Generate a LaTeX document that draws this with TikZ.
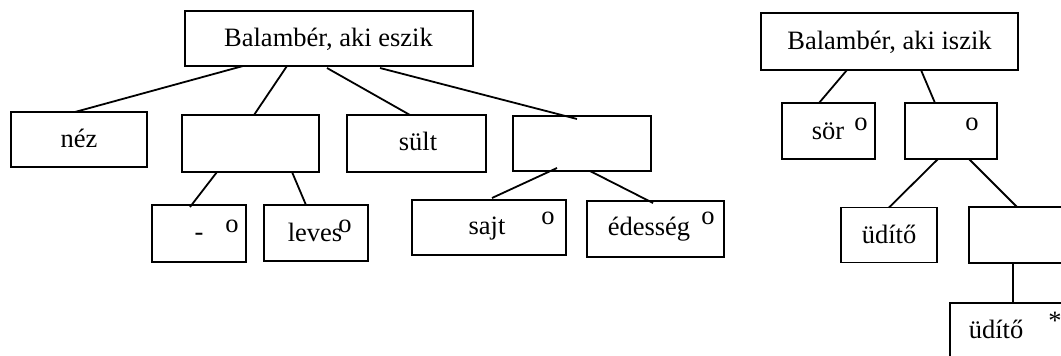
\documentclass[tikz,border=0pt]{standalone}
\usepackage{fontspec}
\setmainfont{Liberation Serif}
\tikzset{
  boxnode/.style={draw, line width=1.8pt, inner sep=0pt, outer sep=0pt, anchor=center},
  txt/.style={inner sep=0pt, outer sep=0pt, anchor=base, font=\fontsize{26.5}{30}\selectfont},
  omark/.style={inner sep=0pt, outer sep=0pt, anchor=base, font=\fontsize{26.5}{30}\selectfont},
  conn/.style={line width=1.8pt}
}
\begin{document}
\begin{tikzpicture}[x=1pt, y=-1pt]
\useasboundingbox (0,0) rectangle (1061,356);
\clip (0,0) rectangle (1061,356);
% left tree boxes
\node[boxnode, minimum width=288, minimum height=55] (top) at (329,38.5) {};
\node[boxnode, minimum width=136, minimum height=55] (nez) at (79,139.5) {};
\node[boxnode, minimum width=137, minimum height=57] (b2) at (250.5,143.5) {};
\node[boxnode, minimum width=139, minimum height=57] (sult) at (416.5,143.5) {};
\node[boxnode, minimum width=138, minimum height=55] (b4) at (582,143.5) {};
\node[boxnode, minimum width=94, minimum height=57] (dashb) at (199,233.5) {};
\node[boxnode, minimum width=104, minimum height=56] (leves) at (316,233) {};
\node[boxnode, minimum width=154, minimum height=55] (sajt) at (489,227.5) {};
\node[boxnode, minimum width=137, minimum height=56] (edes) at (655.5,229) {};
% right tree boxes
\node[boxnode, minimum width=257, minimum height=57] (rtop) at (889.5,41.5) {};
\node[boxnode, minimum width=93, minimum height=56] (sor) at (828.5,131) {};
\node[boxnode, minimum width=92, minimum height=56] (obox) at (951,131) {};
\node[boxnode, minimum width=96, minimum height=55] (udito) at (889,235) {};
\node[boxnode, minimum width=100, minimum height=56] (empty) at (1019,235) {};
\node[boxnode, minimum width=130, minimum height=57] (bottom) at (1015,331.5) {};
% texts
\node[txt] (ttop) at (328.5,46) {Balambér, aki eszik};
\node[txt] (tnez) at (79,147) {néz};
\node[txt] (tsult) at (418,150) {sült};
\node[txt] (tdash) at (199,240) {-};
\node[txt] (tleves) at (315,241) {leves};
\node[txt] (tsajt) at (487,234) {sajt};
\node[txt] (tedes) at (649,235) {édesség};
\node[txt] (trtop) at (889.5,49) {Balambér, aki iszik};
\node[txt] (tsor) at (828,139) {sör};
\node[txt] (tudito) at (889,243) {üdítő};
\node[txt] (tbottom) at (996,338) {üdítő};
% marks
\node[omark] (o1) at (232,232) {o};
\node[omark] (o2) at (345,232) {o};
\node[omark] (o3) at (548,224) {o};
\node[omark] (o4) at (708,224) {o};
\node[omark] (o5) at (861,130) {o};
\node[omark] (o6) at (972,130) {o};
\node[inner sep=0pt, anchor=center, font=\fontsize{26.5}{30}\selectfont] (star) at (1055,321) {*};
% connectors left
\draw[conn] ([xshift=-86pt]top.south) -- ([xshift=-4pt]nez.north);
\draw[conn] ([xshift=-42pt]top.south) -- ([xshift=3.5pt]b2.north);
\draw[conn] ([xshift=-2pt,yshift=-2pt]top.south) -- ([xshift=-6.5pt]sult.north);
\draw[conn] ([xshift=51pt,yshift=-2pt]top.south) -- ([xshift=-5pt,yshift=-3pt]b4.north);
\draw[conn] ([xshift=-33.5pt]b2.south) -- ([xshift=-9pt,yshift=-2pt]dashb.north);
\draw[conn] ([xshift=41.5pt]b2.south) -- ([xshift=-10pt]leves.north);
\draw[conn] ([xshift=-25pt,yshift=3pt]b4.south) -- ([xshift=3pt,yshift=2pt]sajt.north);
\draw[conn] ([xshift=8pt]b4.south) -- ([xshift=-2.5pt,yshift=-2pt]edes.north);
% connectors right
\draw[conn] ([xshift=-42.5pt]rtop.south) -- ([xshift=-9.5pt]sor.north);
\draw[conn] ([xshift=31.5pt]rtop.south) -- ([xshift=-16pt]obox.north);
\draw[conn] ([xshift=-13pt]obox.south) -- (udito.north);
\draw[conn] ([xshift=18pt]obox.south) -- ([xshift=-2pt]empty.north);
\draw[conn] ([xshift=-6pt]empty.south) -- ([xshift=-2pt]bottom.north);
\end{tikzpicture}
\end{document}
